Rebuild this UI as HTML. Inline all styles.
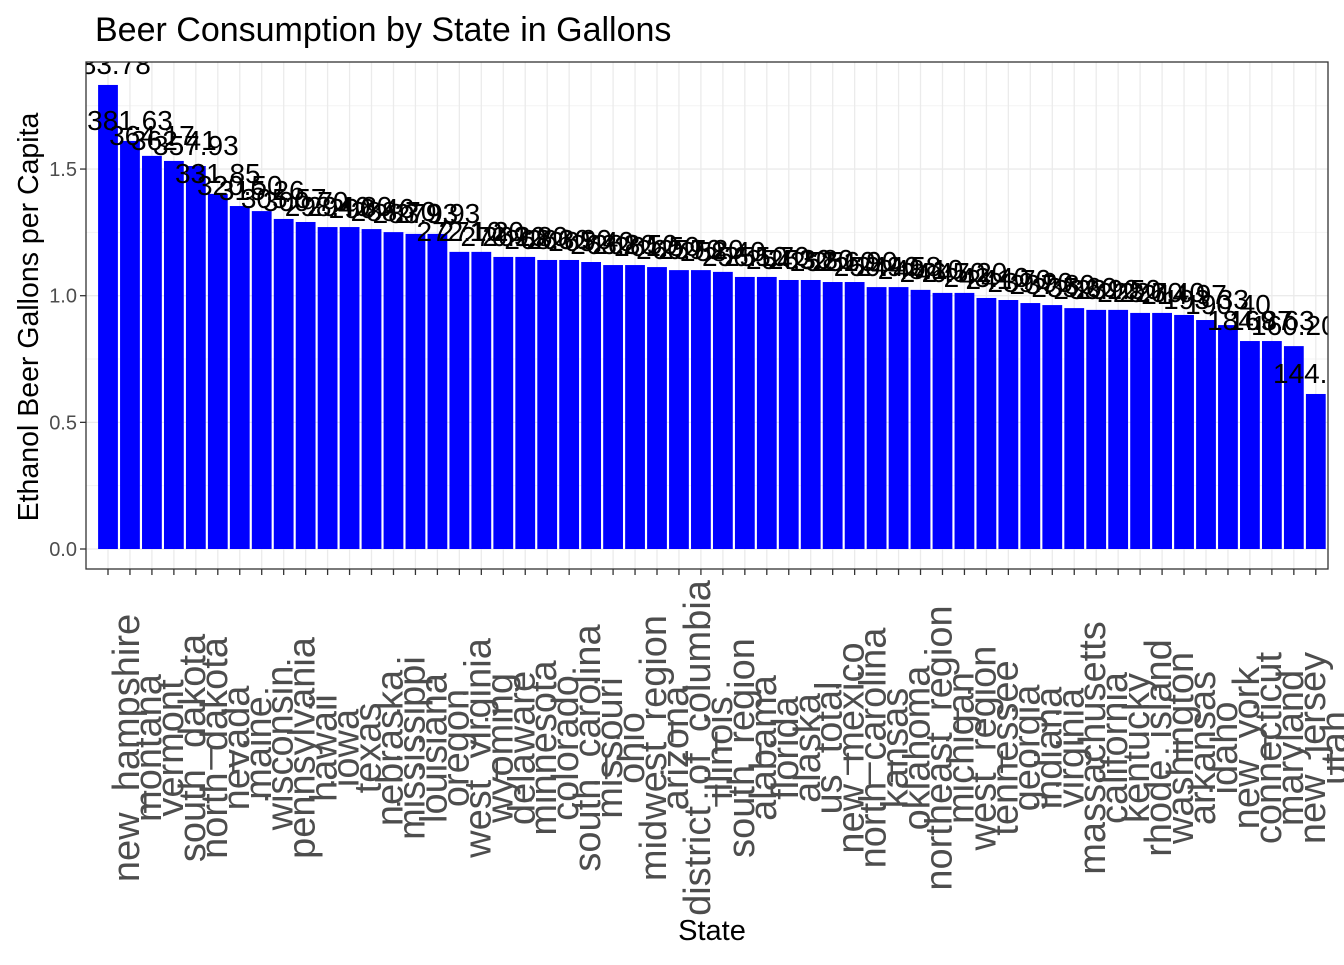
<!DOCTYPE html>
<html><head><meta charset="utf-8"><style>
body{margin:0;background:#fff;}
svg text{font-family:"Liberation Sans",sans-serif;}
</style></head><body>
<svg id="chart" width="1344" height="960" xmlns="http://www.w3.org/2000/svg">
<rect width="1344" height="960" fill="#fff"/>
<text x="95" y="41" font-size="34" fill="#000">Beer Consumption by State in Gallons</text>
<text transform="translate(38,317) rotate(-90)" text-anchor="middle" font-size="28.5" fill="#000">Ethanol Beer Gallons per Capita</text>
<text x="712" y="940" text-anchor="middle" font-size="29" fill="#000">State</text>
<defs><clipPath id="pc"><rect x="86" y="62" width="1242" height="507"/></clipPath></defs>
<g id="grid"></g><g id="bars" clip-path="url(#pc)"></g><g id="labels" clip-path="url(#pc)"></g><g id="axes"></g>
<rect x="86" y="62" width="1242" height="507" fill="none" stroke="#333" stroke-width="1.3"/>
</svg>
<script>
const states=["new_hampshire","montana","vermont","south_dakota","north_dakota","nevada","maine","wisconsin","pennsylvania","hawaii","iowa","texas","nebraska","mississippi","louisiana","oregon","west_virginia","wyoming","delaware","minnesota","colorado","south_carolina","missouri","ohio","midwest_region","arizona","district_of_columbia","illinois","south_region","alabama","florida","alaska","us_total","new_mexico","north_carolina","kansas","oklahoma","northeast_region","michigan","west_region","tennessee","georgia","indiana","virginia","massachusetts","california","kentucky","rhode_island","washington","arkansas","idaho","new_york","connecticut","maryland","new_jersey","utah"];
const perCapita=[1.832,1.611,1.552,1.532,1.512,1.402,1.354,1.334,1.303,1.291,1.271,1.271,1.263,1.251,1.244,1.244,1.173,1.173,1.153,1.153,1.141,1.141,1.133,1.121,1.121,1.113,1.101,1.101,1.094,1.074,1.074,1.062,1.062,1.054,1.054,1.034,1.034,1.023,1.011,1.011,0.991,0.983,0.971,0.963,0.951,0.944,0.944,0.932,0.932,0.924,0.904,0.884,0.821,0.821,0.801,0.612];
const totals=["383.78","381.63","364.17","362.41","357.93","331.85","320.50","315.26","305.57","300.70","298.40","294.80","290.46","288.70","283.93","279.93","272.10","271.20","270.20","269.80","268.30","266.90","265.40","263.80","262.50","261.50","260.70","259.20","258.40","256.10","255.70","254.30","253.80","252.60","251.90","250.40","249.58","248.10","246.70","245.20","243.40","241.70","239.90","237.80","235.60","233.90","231.50","228.70","226.40","214.97","193.33","190.40","184.87","169.63","160.20","144.50"];
const yTicks=[0,0.5,1.0,1.5];
const yTickLabels=["0.0","0.5","1.0","1.5"];
const yMinor=[0.25,0.75,1.25,1.75];
const NS="http://www.w3.org/2000/svg";
const x0=108, step=21.96;
function xPos(i){return x0+i*step;}
function yPos(v){return 549-v*253.3;}
function mk(tag,attrs,parent){const e=document.createElementNS(NS,tag);for(const k in attrs)e.setAttribute(k,attrs[k]);parent.appendChild(e);return e;}
const grid=document.getElementById('grid'),bars=document.getElementById('bars'),labels=document.getElementById('labels'),axes=document.getElementById('axes');
yMinor.forEach(v=>{const l=mk('line',{x1:86,x2:1328,y1:yPos(v),y2:yPos(v),stroke:'#f3f3f3','stroke-width':1},grid);

});
yTicks.forEach((v,k)=>{const l=mk('line',{x1:86,x2:1328,y1:yPos(v),y2:yPos(v),stroke:'#ebebeb','stroke-width':1.3},grid);


const t=mk('line',{x1:80,x2:86,y1:yPos(v),y2:yPos(v),stroke:'#333','stroke-width':1.3},axes);


const tx=mk('text',{x:77,y:yPos(v)+7,'text-anchor':'end','font-size':20,fill:'#4d4d4d'},axes);
tx.textContent=yTickLabels[k];

});
states.forEach((s,i)=>{const cx=xPos(i);
const g=mk('line',{x1:cx,x2:cx,y1:62,y2:569,stroke:'#ebebeb','stroke-width':1.3},grid);


const top=yPos(perCapita[i]);
const b=mk('rect',{x:cx-9.9,y:top,width:19.8,height:yPos(0)-top,fill:'#0000ff'},bars);


const lb=mk('text',{x:cx,y:top-11,'text-anchor':'middle','font-size':28,fill:'#000'},labels);
lb.textContent=totals[i];


const t=mk('line',{x1:cx,x2:cx,y1:569,y2:575,stroke:'#333','stroke-width':1.3},axes);


const tx=mk('text',{transform:'translate('+(cx+31)+',748) rotate(-90)','text-anchor':'middle','font-size':38,fill:'#4d4d4d'},axes);
tx.textContent=s;

});
</script>
</body></html>
